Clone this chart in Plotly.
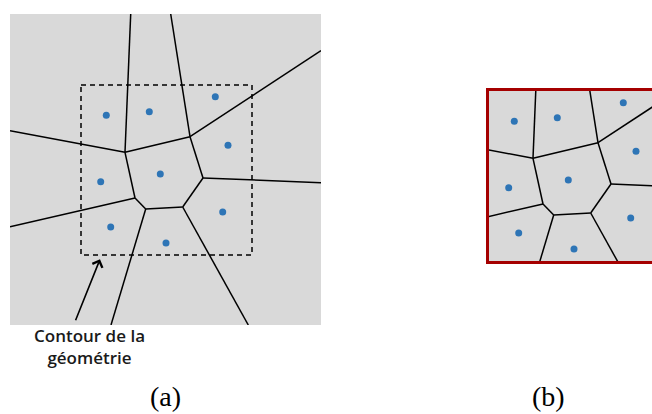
import plotly.graph_objects as go

W, H = 652, 414

# Seed points of the Voronoi cells (picture coordinates, y downward)
seed_x = [106.3, 149.3, 215.3, 228.0, 100.7, 160.3, 222.7, 110.7, 166.0]
seed_y = [115.3, 111.7, 96.7, 145.3, 181.7, 174.0, 212.0, 227.0, 243.0]

# Voronoi vertices (inner cell)
vert_x = [125.0, 190.0, 203.0, 182.7, 145.7, 135.0]
vert_y = [152.3, 136.7, 178.0, 207.0, 209.0, 198.0]

# Infinite edges: start vertex index and far end on the outer frame
ray_from = [0, 0, 1, 1, 2, 3, 4, 5]
ray_x = [130.7, 10.0, 170.7, 321.0, 321.0, 248.3, 111.0, 10.0]
ray_y = [14.0, 130.7, 14.0, 50.7, 182.7, 325.0, 325.0, 226.7]

# Outer frame of panel (a) and geometry contour (dashed box)
frame = [10.0, 321.0, 14.0, 325.0]      # x0, x1, y0, y1
contour = [81.0, 252.0, 85.0, 255.0]    # x0, x1, y0, y1

# Arrow of the label (tip, tail)
arrow_tip = (100.0, 259.3)
arrow_tail = (75.0, 321.7)

label_text = "Contour de la<br>géométrie"
panel_labels = ["(a)", "(b)"]

GRAY = "#d9d9d9"
BLUE = "#2e75b6"
RED = "#a50000"

# Build edge polyline with separators
ex, ey = [], []
n = len(vert_x)
for i in range(n):
    j = (i + 1) % n
    ex += [vert_x[i], vert_x[j], None]
    ey += [vert_y[i], vert_y[j], None]
for k, f in enumerate(ray_from):
    ex += [vert_x[f], ray_x[k], None]
    ey += [vert_y[f], ray_y[k], None]

fig = go.Figure()

for xa, ya in [("x", "y"), ("x2", "y2")]:
    fig.add_trace(go.Scatter(x=ex, y=ey, mode="lines", xaxis=xa, yaxis=ya,
                             line=dict(color="black", width=1.5),
                             hoverinfo="skip", showlegend=False))
    fig.add_trace(go.Scatter(x=seed_x, y=seed_y, mode="markers", xaxis=xa, yaxis=ya,
                             marker=dict(color=BLUE, size=7),
                             showlegend=False, cliponaxis=True))

# dashed contour in panel (a)
cx0, cx1, cy0, cy1 = contour
fig.add_trace(go.Scatter(x=[cx0, cx1, cx1, cx0, cx0], y=[cy0, cy0, cy1, cy1, cy0],
                         mode="lines", xaxis="x", yaxis="y",
                         line=dict(color="black", width=1.5, dash="5px,4px"),
                         hoverinfo="skip", showlegend=False))

fx0, fx1, fy0, fy1 = frame

def px(v):
    return v / W

def py(v):
    return 1 - v / H

# panel (b) placement: red border at x=489, y 91..261
bx0, by0, by1 = 489.0, 91.0, 261.0
scale = (by1 - by0) / (cy1 - cy0)
b_xmax = cx0 + (W - bx0) / scale

fig.update_layout(
    width=W, height=H,
    margin=dict(l=0, r=0, t=0, b=0),
    paper_bgcolor="white",
    plot_bgcolor=GRAY,
    xaxis=dict(domain=[px(fx0), px(fx1)], range=[fx0, fx1], visible=False),
    yaxis=dict(domain=[py(fy1), py(fy0)], range=[fy1, fy0], visible=False),
    xaxis2=dict(domain=[px(bx0), 1], range=[cx0, b_xmax], anchor="y2",
                showgrid=False, zeroline=False, showticklabels=False, ticks="",
                showline=True, linecolor=RED, linewidth=3, mirror=True),
    yaxis2=dict(domain=[py(by1), py(by0)], range=[cy1, cy0], anchor="x2",
                showgrid=False, zeroline=False, showticklabels=False, ticks="",
                showline=True, linecolor=RED, linewidth=3),
    annotations=[
        dict(x=arrow_tip[0], y=arrow_tip[1], ax=arrow_tail[0], ay=arrow_tail[1],
             xref="x", yref="y", axref="x", ayref="y", text="",
             showarrow=True, arrowhead=4, arrowsize=1.3, arrowwidth=1.6,
             arrowcolor="black"),
        dict(x=px(89.5), y=py(346), xref="paper", yref="paper", text=label_text,
             showarrow=False, xanchor="center", yanchor="middle",
             font=dict(family="Open Sans", size=17, color="#1a1a1a", weight=600)),
        dict(x=px(165.5), y=py(396), xref="paper", yref="paper", text=panel_labels[0],
             showarrow=False, xanchor="center", yanchor="middle",
             font=dict(family="Liberation Serif", size=28, color="black")),
        dict(x=px(548), y=py(396), xref="paper", yref="paper", text=panel_labels[1],
             showarrow=False, xanchor="center", yanchor="middle",
             font=dict(family="Liberation Serif", size=28, color="black")),
    ],
)

fig.write_html("out.html", config={"displayModeBar": False},
               post_script="document.body.style.margin='0';")
